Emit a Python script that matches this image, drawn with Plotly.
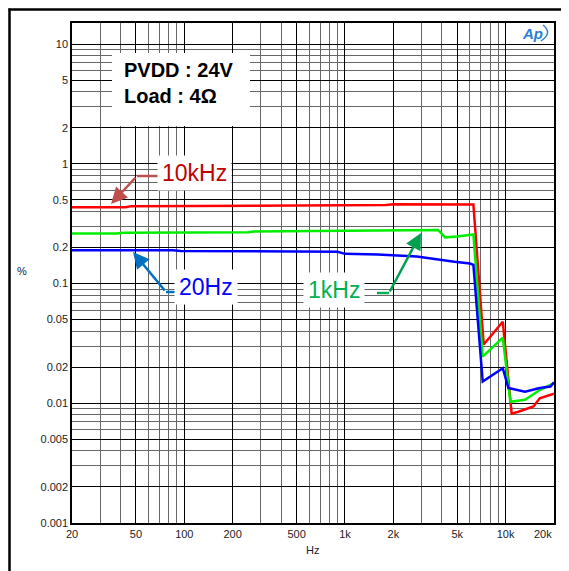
import plotly.graph_objects as go

# THD+N curves
freq_10k = [20, 43, 47, 370, 400, 1800, 2000, 6300, 7300, 9600, 10900, 12000, 14900, 16300, 20000]
thd_10k = [0.433, 0.433, 0.443, 0.445, 0.45, 0.452, 0.46, 0.458, 0.031, 0.048, 0.0082, 0.0085, 0.0094, 0.011, 0.012]

freq_1k = [20, 38, 42, 250, 270, 2000, 3800, 4200, 5000, 6300, 7200, 9600, 10700, 13200, 16300, 20000]
thd_1k = [0.262, 0.262, 0.266, 0.268, 0.272, 0.278, 0.28, 0.243, 0.247, 0.257, 0.0245, 0.0353, 0.0103, 0.0107, 0.0129, 0.0147]

freq_20 = [20, 85, 95, 200, 500, 900, 1000, 1600, 2800, 4800, 6000, 6300, 7200, 9600, 10400, 13200, 16300, 19000, 20000]
thd_20 = [0.19, 0.19, 0.187, 0.187, 0.185, 0.184, 0.177, 0.175, 0.168, 0.152, 0.147, 0.143, 0.0152, 0.0196, 0.0134, 0.0125, 0.0134, 0.0138, 0.015]

x_ticks = [20, 50, 100, 200, 500, 1000, 2000, 5000, 10000]
x_labels = ["20", "50", "100", "200", "500", "1k", "2k", "5k", "10k"]
x_minor = [30, 40, 60, 70, 80, 90, 300, 400, 600, 700, 800, 900,
           3000, 4000, 6000, 7000, 8000, 9000, 20000]
y_ticks = [0.001, 0.002, 0.005, 0.01, 0.02, 0.05, 0.1, 0.2, 0.5, 1, 2, 5, 10]
y_labels = ["0.001", "0.002", "0.005", "0.01", "0.02", "0.05", "0.1", "0.2", "0.5", "1", "2", "5", "10"]
y_minor = [m * 10 ** e for e in range(-3, 1) for m in (3, 4, 6, 7, 8, 9)]

# page body has an 8px margin, so the figure is drawn 8px in from the window corner
OFF = 8
W, H = 569 - OFF, 571 - OFF
L, R, T, B = 72 - OFF, 15, 23 - OFF, 48


def px(x):
    return (x - OFF - L) / (W - L - R)


def py(y):
    return (H - B - (y - OFF)) / (H - T - B)


fig = go.Figure()
fig.add_trace(go.Scatter(x=freq_10k, y=thd_10k, mode="lines", line=dict(color="#ff0000", width=2.5)))
fig.add_trace(go.Scatter(x=freq_1k, y=thd_1k, mode="lines", line=dict(color="#00ee00", width=2.5)))
fig.add_trace(go.Scatter(x=freq_20, y=thd_20, mode="lines", line=dict(color="#0000ff", width=2.5)))

font = "Arial, Liberation Sans, sans-serif"
axis_common = dict(showline=True, linecolor="black", linewidth=1.5, mirror=True,
                   gridcolor="black", gridwidth=1, ticks="", zeroline=False,
                   tickfont=dict(family=font, size=11, color="#222"))

fig.update_xaxes(type="log", range=[1.30103, 4.30103], tickvals=x_ticks, ticktext=x_labels,
                 minor=dict(tickmode="array", tickvals=x_minor, showgrid=True,
                            gridcolor="#666", gridwidth=1, ticks=""),
                 **axis_common)
fig.update_yaxes(type="log", range=[-3, 1.176], tickvals=y_ticks, ticktext=y_labels,
                 minor=dict(tickmode="array", tickvals=y_minor, showgrid=True,
                            gridcolor="#666", gridwidth=1, ticks=""),
                 **axis_common)

shapes = [
    # outer frame (left and top), kept just inside the figure
    dict(type="line", xref="paper", yref="paper", x0=px(9.5), x1=px(9.5), y0=py(8.5), y1=py(575),
         line=dict(color="black", width=2.5)),
    dict(type="line", xref="paper", yref="paper", x0=px(8.5), x1=px(575), y0=py(9.5), y1=py(9.5),
         line=dict(color="black", width=2.5)),
    # white box behind supply text
    dict(type="rect", xref="paper", yref="paper", x0=px(112), x1=px(250), y0=py(53), y1=py(126),
         fillcolor="white", line=dict(width=0), layer="above"),
    # arrow tails
    dict(type="line", xref="paper", yref="paper", x0=px(158), x1=px(137), y0=py(176), y1=py(176),
         line=dict(color="#c0504d", width=2.5)),
    dict(type="line", xref="paper", yref="paper", x0=px(177), x1=px(166), y0=py(292), y1=py(292),
         line=dict(color="#0070c0", width=2.5)),
    dict(type="line", xref="paper", yref="paper", x0=px(377), x1=px(389), y0=py(293), y1=py(293),
         line=dict(color="#00b050", width=2.5)),
    # Ap logo arc
    dict(type="path", xref="paper", yref="paper",
         path=f"M {px(543)},{py(25)} Q {px(553)},{py(33)} {px(541)},{py(41)}",
         line=dict(color="#2a7fd4", width=1.5)),
]


def label(x, y, text, size, color, **kw):
    return dict(xref="paper", yref="paper", x=px(x), y=py(y), xanchor="center", yanchor="middle",
                text=text, showarrow=False, font=dict(family=font, size=size, color=color), **kw)


def arrow(tip, tail, color):
    return dict(xref="paper", yref="paper", x=px(tip[0]), y=py(tip[1]),
                ax=tail[0] - tip[0], ay=tail[1] - tip[1], text="", showarrow=True,
                arrowhead=2, arrowsize=1.3, arrowwidth=2.5, arrowcolor=color)


annotations = [
    dict(xref="paper", yref="paper", x=px(122), y=py(83), xanchor="left", yanchor="middle",
         text="<b>PVDD : 24V<br>Load : 4Ω</b>", showarrow=False, align="left",
         font=dict(family=font, size=20, color="black")),
    label(194, 173, "10kHz", 23, "#c00000", bgcolor="white", borderpad=4),
    label(206, 287, "20Hz", 23, "#0000ff", bgcolor="white", borderpad=4),
    label(334, 290, "1kHz", 23, "#00b050", bgcolor="white", borderpad=4),
    arrow((111, 204), (137, 176), "#c0504d"),
    arrow((133, 252), (166, 292), "#0070c0"),
    arrow((421, 233), (389, 293), "#00a050"),
    label(312, 550, "Hz", 11, "#222"),
    label(22, 271, "%", 11, "#222"),
    label(543, 534, "20k", 11, "#222"),
    label(532, 33, "<b><i>Ap</i></b>", 15, "#2a7fd4"),
]

fig.update_layout(
    width=W, height=H, autosize=False,
    margin=dict(l=L, r=R, t=T, b=B),
    paper_bgcolor="white", plot_bgcolor="white",
    showlegend=False,
    shapes=shapes, annotations=annotations,
)

fig.write_html("out.html")
